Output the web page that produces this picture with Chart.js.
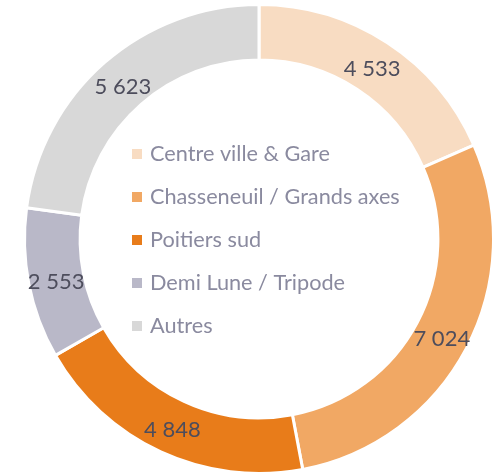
<!DOCTYPE html>
<html><head><meta charset="utf-8">
<script src="https://cdn.jsdelivr.net/npm/chart.js@4"></script>
<style>html,body{margin:0;padding:0;background:#fff;}#wrap{width:495px;height:476px;position:relative;}</style>
</head><body><div id="wrap"><canvas id="c" width="495" height="476"></canvas></div>
<script>
const categories = ["Centre ville & Gare", "Chasseneuil / Grands axes", "Poitiers sud", "Demi Lune / Tripode", "Autres"];
const values = [4533, 7024, 4848, 2553, 5623];
const valueLabels = ["4 533", "7 024", "4 848", "2 553", "5 623"];
const colors = ["#F8DCC2", "#F1A864", "#E87C1A", "#B9B8C8", "#D8D8D8"];

const FONT = "Lato, 'Open Sans', sans-serif";

const labelPlugin = {
  id: 'labels',
  afterDatasetsDraw(chart) {
    const ctx = chart.ctx;
    const meta = chart.getDatasetMeta(0);
    ctx.save();
    ctx.font = "22px " + FONT;
    ctx.fillStyle = "#4d4d5c";
    ctx.textAlign = "center";
    ctx.textBaseline = "middle";
    meta.data.forEach((arc, i) => {
      const p = arc.getCenterPoint();
      ctx.fillText(valueLabels[i], p.x, p.y + 3);
    });
    // center legend
    const cx = meta.data[0].x;
    const cy = meta.data[0].y;
    const rowH = 43;
    const startY = cy - rowH * 2 + 1;
    const boxX = cx - 127;
    ctx.font = "21.7px " + FONT;
    ctx.textAlign = "left";
    categories.forEach((c, i) => {
      const y = startY + i * rowH;
      ctx.fillStyle = colors[i];
      ctx.fillRect(boxX, y - 5, 10, 10);
      ctx.fillStyle = "#8a8a9f";
      ctx.fillText(c, boxX + 18, y);
    });
    ctx.restore();
  }
};

new Chart(document.getElementById('c'), {
  type: 'doughnut',
  data: {
    labels: categories,
    datasets: [{
      data: values,
      backgroundColor: colors,
      borderColor: "#ffffff",
      borderWidth: 3,
      hoverOffset: 0,
      offset: 0
    }]
  },
  options: {
    responsive: false,
    animation: false,
    cutout: '76.3%',
    layout: { padding: { left: 23, right: 0, top: 2, bottom: 0 } },
    plugins: { legend: { display: false }, tooltip: { enabled: false } }
  },
  plugins: [labelPlugin]
});
</script>
</body></html>
